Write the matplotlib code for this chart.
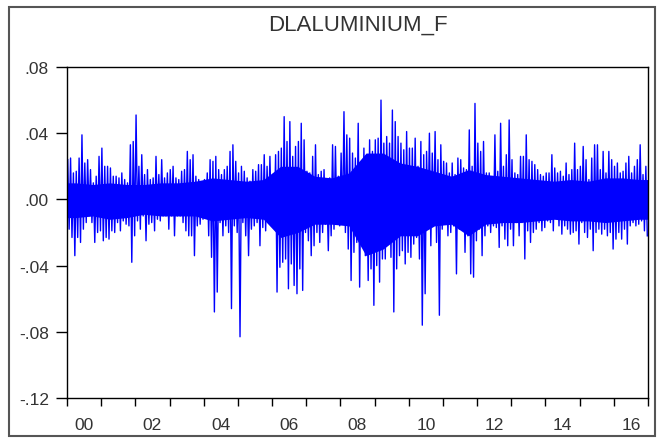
import numpy as np
import matplotlib
matplotlib.use("Agg")
import matplotlib.pyplot as plt
from matplotlib.patches import Rectangle

plt.rcParams['font.family'] = ['Liberation Sans', 'DejaVu Sans']

# monthly extremes of the daily log returns, in percent, Jan 2000 .. Dec 2016
peaks = [
    2.4, 2.5, 1.6, 1.7, 2.5, 3.9, 2.2, 2.4, 1.8, 1.0, 1.4, 2.6,   # 2000
    3.1, 2.0, 2.0, 1.9, 1.4, 1.4, 1.3, 1.6, 1.2, 1.0, 3.3, 3.5,   # 2001
    5.1, 2.0, 2.7, 1.5, 1.8, 1.2, 1.3, 2.6, 1.5, 2.4, 1.3, 1.6,   # 2002
    1.8, 2.0, 1.3, 1.2, 1.7, 1.8, 2.9, 2.4, 2.7, 1.4, 1.2, 0.8,   # 2003
    1.2, 1.6, 2.4, 2.3, 2.6, 1.8, 1.5, 1.8, 2.0, 2.9, 3.3, 2.3,   # 2004
    1.6, 2.0, 1.7, 1.3, 1.1, 1.8, 1.7, 2.1, 2.1, 2.7, 2.0, 2.6,   # 2005
    1.5, 2.7, 2.9, 3.1, 5.0, 3.5, 4.7, 2.6, 3.2, 3.5, 4.6, 3.6,   # 2006
    1.7, 1.6, 2.6, 3.3, 1.5, 1.7, 1.8, 0.7, 1.3, 3.3, 3.2, 1.4,   # 2007
    2.8, 5.3, 3.9, 3.7, 2.8, 2.5, 4.6, 2.2, 3.1, 2.0, 3.6, 2.9,   # 2008
    3.6, 3.7, 6.0, 3.4, 3.8, 3.4, 5.4, 4.7, 3.8, 3.4, 3.0, 4.1,   # 2009
    3.1, 3.1, 3.7, 2.0, 3.5, 2.7, 2.9, 4.0, 2.8, 4.1, 2.4, 3.3,   # 2010
    2.3, 2.2, 1.6, 2.2, 1.5, 2.5, 2.4, 1.9, 1.8, 4.2, 2.0, 5.8,   # 2011
    3.4, 2.9, 3.5, 1.6, 1.6, 0.8, 3.9, 1.7, 4.6, 2.0, 2.7, 4.8,   # 2012
    2.4, 1.6, 1.5, 2.6, 2.6, 3.9, 2.4, 2.3, 2.1, 1.8, 1.5, 1.4,   # 2013
    1.6, 1.6, 2.7, 1.9, 1.6, 1.7, 1.4, 2.2, 1.5, 1.8, 3.4, 1.8,   # 2014
    2.0, 3.2, 2.4, 1.2, 2.5, 3.3, 3.3, 1.8, 2.9, 1.6, 2.9, 2.4,   # 2015
    2.0, 2.2, 1.6, 1.7, 2.2, 2.6, 1.6, 2.0, 2.4, 3.3, 1.5, 2.0,   # 2016
]
troughs = [
    -1.8, -2.3, -3.4, -2.3, -2.6, -1.8, -1.4, -1.0, -1.4, -2.6, -2.0, -1.9,   # 2000
    -2.5, -2.3, -2.4, -1.9, -2.0, -1.4, -1.9, -1.3, -1.5, -1.6, -3.8, -2.2,   # 2001
    -1.3, -1.8, -1.0, -2.5, -1.5, -1.4, -1.9, -1.2, -1.3, -1.0, -1.0, -1.8,   # 2002
    -1.0, -2.2, -1.0, -1.0, -1.4, -1.9, -2.2, -2.2, -3.4, -1.6, -1.5, -1.2,   # 2003
    -0.8, -2.2, -3.5, -6.8, -5.6, -1.4, -2.2, -1.6, -2.0, -6.6, -1.6, -2.0,   # 2004
    -8.3, -1.4, -2.2, -3.4, -1.8, -1.6, -1.4, -2.8, -1.7, -1.9, -1.4, -1.3,   # 2005
    -1.4, -5.6, -4.1, -3.8, -3.6, -5.4, -3.9, -5.2, -5.7, -4.2, -5.5, -2.0,   # 2006
    -2.5, -3.4, -2.8, -2.0, -2.6, -2.0, -1.5, -3.1, -2.2, -1.8, -1.3, -1.6,   # 2007
    -1.5, -2.0, -3.0, -4.9, -3.2, -2.6, -5.3, -2.4, -3.4, -4.9, -4.2, -6.4,   # 2008
    -4.0, -5.0, -3.6, -3.6, -1.6, -3.5, -6.8, -4.2, -3.4, -3.1, -3.9, -3.2,   # 2009
    -3.5, -2.7, -2.3, -3.6, -7.6, -5.7, -1.6, -2.8, -1.4, -2.6, -7.0, -1.8,   # 2010
    -1.5, -2.2, -2.0, -1.6, -4.5, -1.8, -1.4, -3.2, -2.2, -4.5, -4.7, -2.5,   # 2011
    -1.8, -3.4, -2.2, -1.6, -2.0, -1.6, -1.7, -2.9, -1.6, -2.4, -2.8, -1.8,   # 2012
    -2.8, -1.4, -2.2, -1.4, -3.6, -1.9, -2.6, -2.0, -1.8, -1.4, -1.9, -1.7,   # 2013
    -1.3, -1.4, -1.9, -1.0, -1.6, -2.1, -1.6, -1.8, -2.1, -2.0, -1.9, -2.7,   # 2014
    -1.4, -2.0, -2.3, -1.8, -3.1, -2.0, -1.8, -2.1, -1.8, -2.2, -2.0, -3.0,   # 2015
    -2.4, -2.0, -2.4, -1.8, -2.7, -1.6, -1.4, -1.6, -1.5, -1.3, -1.9, -2.2,   # 2016
]
# width of the dense body of the series, half-year steps, percent
core_top = [1.0, 0.9, 1.0, 0.9, 0.9, 1.0, 1.0, 1.1, 1.3, 1.2, 1.1, 1.2,
            2.0, 2.0, 1.4, 1.3, 1.6, 2.8, 2.8, 2.2, 2.0, 1.7, 1.4, 1.8,
            1.5, 1.4, 1.3, 1.2, 1.1, 1.2, 1.1, 1.3, 1.3, 1.2]
core_bot = [-1.1, -1.0, -1.2, -1.1, -0.9, -1.0, -1.0, -1.0, -1.3, -1.2, -1.1, -1.2,
            -2.3, -2.0, -1.5, -1.5, -1.6, -3.4, -3.0, -2.2, -2.2, -1.6, -1.5, -2.2,
            -1.5, -1.4, -1.4, -1.3, -1.2, -1.3, -1.3, -1.4, -1.3, -1.2]

year_labels = ['00', '02', '04', '06', '08', '10', '12', '14', '16']
y_ticks = [0.08, 0.04, 0.00, -0.04, -0.08, -0.12]
y_labels = ['.08', '.04', '.00', '-.04', '-.08', '-.12']

blue = '#0000ff'
hi = np.array(peaks) / 100
lo = np.array(troughs) / 100
months = np.arange(len(hi))

# the series swings from each month's high to its low
t_line = np.ravel(np.column_stack([2000 + (months + 0.25) / 12, 2000 + (months + 0.75) / 12]))
v_line = np.ravel(np.column_stack([hi, lo]))

# half-year midpoints, held flat out to the axis ends
t_core = np.concatenate([[2000], 2000 + (np.arange(len(core_top)) + 0.5) / 2, [2017]])
c_top = np.concatenate([core_top[:1], core_top, core_top[-1:]]) / 100
c_bot = np.concatenate([core_bot[:1], core_bot, core_bot[-1:]]) / 100

fig = plt.figure(figsize=(6.62, 4.39), dpi=100)
ax = fig.add_axes([67/662, 1 - 399/439, 581/662, 331/439])

ax.fill_between(t_core, c_bot, c_top, color=blue, lw=0)
ax.plot(t_line, v_line, color=blue, lw=1.0)

ax.set_xlim(2000, 2017)
ax.set_ylim(-0.12, 0.08)
ax.set_yticks(y_ticks)
ax.set_yticklabels(y_labels)
ax.set_xticks(np.arange(2000, 2018))
ax.set_xticklabels([])
ax.set_xticks(np.arange(2000.5, 2017, 2), minor=True)
ax.set_xticklabels(year_labels, minor=True)
ax.tick_params(axis='x', which='major', direction='out', length=6, width=1)
ax.tick_params(axis='x', which='minor', length=0, pad=14, labelsize=12.5, labelcolor='#333333')
ax.tick_params(axis='y', direction='out', length=8, width=1, pad=5,
               labelsize=12.5, labelcolor='#333333')
for s in ax.spines.values():
    s.set_linewidth(1)

fig.text(0.54, 0.942, 'DLALUMINIUM_F', ha='center', va='center', fontsize=16, color='#333333')
fig.patches.append(Rectangle((9/662, 2/439), 646/662, 429/439, transform=fig.transFigure,
                             fill=False, lw=1.5, ec='#555555'))

fig.savefig('out.png', dpi=100)
